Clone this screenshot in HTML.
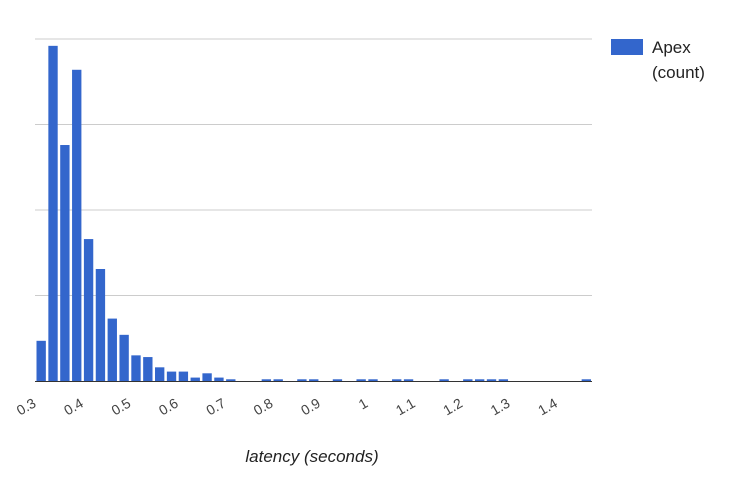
<!DOCTYPE html>
<html><head><meta charset="utf-8"><style>
body{margin:0;background:#fff;width:734px;height:488px;overflow:hidden;font-family:"Liberation Sans",Arial,sans-serif}
</style></head><body>
<svg id="chart" width="734" height="488" xmlns="http://www.w3.org/2000/svg"></svg>
<script>
const values = [47,392,276,364,166,131,73,54,30,28,16,11,11,4,9,4,2,0,0,2,2,0,2,2,0,2,0,2,2,0,2,2,0,0,2,0,2,2,2,2,0,0,0,0,0,0,2];
const binStart = 0.3;
const binWidth = 0.025;
const tickLabels = ["0.3","0.4","0.5","0.6","0.7","0.8","0.9","1","1.1","1.2","1.3","1.4"];
const tickValues = [0.3,0.4,0.5,0.6,0.7,0.8,0.9,1,1.1,1.2,1.3,1.4];
const yMax = 400;
const gridStep = 100;

const NS="http://www.w3.org/2000/svg";
const svg=document.getElementById('chart');
const L=35,R=592,T=39,B=381;
const xMin=0.3,xMax=xMin+values.length*binWidth;
const xs=v=>L+(v-xMin)/(xMax-xMin)*(R-L);
const ys=v=>B-v/yMax*(B-T);
function mk(tag,attrs){const e=document.createElementNS(NS,tag);for(const k in attrs)e.setAttribute(k,attrs[k]);svg.appendChild(e);return e;}

for(let g=gridStep;g<=yMax;g+=gridStep){
  const l=mk('line',{x1:L,x2:R,y1:ys(g),y2:ys(g),stroke:'#cccccc','stroke-width':1});
  
  
}
values.forEach((v,i)=>{
  if(v<=0)return;
  const x0=xs(binStart+i*binWidth)+1.5,x1=xs(binStart+(i+1)*binWidth)-1;
  const r=mk('rect',{x:x0,y:ys(v),width:x1-x0,height:B-ys(v),fill:'#3366cc'});
  
  
});
const ax=mk('line',{x1:L,x2:R,y1:B+0.5,y2:B+0.5,stroke:'#333','stroke-width':1});


tickValues.forEach((v,i)=>{
  const x=xs(v)+2,y=406;
  const t=mk('text',{x:x,y:y,'text-anchor':'end','font-size':14,fill:'#444',transform:`rotate(-30 ${x} ${y})`});
  t.textContent=tickLabels[i];
  
  
});
const title=mk('text',{x:312,y:462,'text-anchor':'middle','font-size':17,'font-style':'italic',fill:'#222'});
title.textContent='latency (seconds)';


const lr=mk('rect',{x:611,y:39,width:32,height:16,fill:'#3366cc'});


const l1=mk('text',{x:652,y:53,'font-size':17,fill:'#222'});
l1.textContent='Apex';


const l2=mk('text',{x:652,y:78,'font-size':17,fill:'#222'});
l2.textContent='(count)';


</script>
</body></html>
